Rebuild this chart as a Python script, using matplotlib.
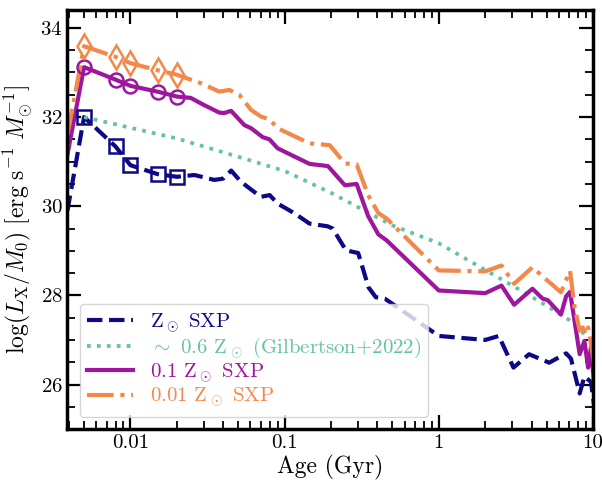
import numpy as np
import matplotlib
matplotlib.use("Agg")
import matplotlib.pyplot as plt
from matplotlib.ticker import MultipleLocator, LogLocator, FixedLocator, FixedFormatter

plt.rcParams['font.family'] = 'serif'
plt.rcParams['font.serif'] = ['cmr10', 'DejaVu Serif']
plt.rcParams['mathtext.fontset'] = 'cm'
plt.rcParams['axes.formatter.use_mathtext'] = True
plt.rcParams['axes.unicode_minus'] = False

# ---------------- data ----------------
marker_ages = [0.005, 0.008, 0.01, 0.015, 0.02]

solar_ages = [0.0039, 0.005, 0.008, 0.01, 0.015, 0.02, 0.026, 0.035, 0.040, 0.045,
              0.052, 0.070, 0.080, 0.090, 0.116, 0.145, 0.19, 0.205, 0.25, 0.30,
              0.35, 0.39, 0.45, 1.0, 2.0, 2.45, 3.05, 3.85, 5.2, 6.7, 7.2, 8.2,
              8.8, 9.7, 10.2]
solar_vals = [29.9, 32.0, 31.34, 30.92, 30.72, 30.66, 30.70, 30.59, 30.62, 30.80,
              30.55, 30.21, 30.25, 30.06, 29.84, 29.61, 29.55, 29.50, 29.01, 28.95,
              28.18, 27.96, 27.92, 27.09, 27.0, 27.09, 26.38, 26.68, 26.49, 26.70,
              26.58, 25.80, 26.18, 26.06, 25.50]

gilb_ages = [0.005, 0.01, 0.02, 0.05, 0.1, 0.2, 0.5, 1.0, 2.0, 3.0, 5.0, 7.0, 10.0]
gilb_vals = [32.0, 31.76, 31.52, 31.11, 30.79, 30.30, 29.57, 29.17, 28.57, 28.22,
             27.77, 27.45, 26.95]

z01_ages = [0.0039, 0.005, 0.008, 0.01, 0.015, 0.02, 0.0246, 0.030, 0.0377, 0.0406,
            0.0449, 0.0548, 0.0606, 0.072, 0.0797, 0.090, 0.145, 0.191, 0.246, 0.293,
            0.348, 0.405, 0.46, 1.0, 2.0, 2.55, 3.08, 4.05, 4.7, 5.1, 6.2, 6.7, 7.1,
            8.2, 8.8, 9.3, 9.7, 10.2]
z01_vals = [31.16, 33.12, 32.84, 32.70, 32.57, 32.46, 32.43, 32.27, 32.10, 32.09,
            32.14, 31.82, 31.75, 31.55, 31.50, 31.30, 30.95, 30.90, 30.47, 30.50,
            29.78, 29.37, 29.23, 28.11, 28.05, 28.22, 27.79, 28.15, 27.93, 27.89,
            27.57, 27.98, 28.08, 26.68, 26.98, 26.38, 26.83, 25.95]

z001_ages = [0.0039, 0.005, 0.008, 0.01, 0.015, 0.02, 0.0286, 0.0377, 0.0437, 0.0508,
             0.0606, 0.0703, 0.0797, 0.090, 0.145, 0.196, 0.246, 0.293, 0.348, 0.405,
             0.46, 1.0, 2.0, 2.55, 3.08, 4.05, 4.7, 6.2, 7.1, 7.6, 8.2, 8.6, 9.0,
             9.3, 9.7, 10.2]
z001_vals = [31.6, 33.59, 33.35, 33.21, 33.05, 32.95, 32.76, 32.57, 32.61, 32.50,
             32.16, 32.01, 31.95, 31.75, 31.41, 31.37, 30.96, 30.94, 30.25, 29.85,
             29.72, 28.56, 28.54, 28.67, 28.26, 28.63, 28.43, 28.07, 28.55, 27.73,
             27.21, 27.28, 27.13, 27.28, 26.91, 26.46]

labels = [r'$\mathrm{Z}_\odot$ SXP', r'$\sim$ 0.6 $\mathrm{Z}_\odot$ (Gilbertson+2022)',
          r'0.1 $\mathrm{Z}_\odot$ SXP', r'0.01 $\mathrm{Z}_\odot$ SXP']
colors = ['#0d0887', '#66c2a5', '#9c179e', '#f48849']

xticks = [0.01, 0.1, 1, 10]
xticklabels = ['0.01', '0.1', '1', '10']
yticks = [26, 28, 30, 32, 34]

# ---------------- plot ----------------
fig = plt.figure(figsize=(6.02, 4.8), dpi=100)
ax = fig.add_axes([0.112, 0.106, 0.873, 0.873])

lw = 3
ax.plot(solar_ages, solar_vals, ls='--', lw=lw, color=colors[0], label=labels[0])
ax.plot(gilb_ages, gilb_vals, ls=':', lw=2.7, color=colors[1], label=labels[1])
ax.plot(z01_ages, z01_vals, ls='-', lw=lw, color=colors[2], label=labels[2])
ax.plot(z001_ages, z001_vals, ls='-.', lw=lw, color=colors[3], label=labels[3])

def pick(ages, vals):
    a = np.array(ages); v = np.array(vals)
    m = np.isin(np.round(a, 5), np.round(marker_ages, 5))
    return a[m], v[m]

for (ag, vl, mk, c, ms) in [(solar_ages, solar_vals, 's', colors[0], 10),
                            (z01_ages, z01_vals, 'o', colors[2], 10),
                            (z001_ages, z001_vals, 'd', colors[3], 12)]:
    xa, ya = pick(ag, vl)
    ax.plot(xa, ya, ls='none', marker=mk, ms=ms, mfc='none', mec=c, mew=1.8)

ax.set_xscale('log')
ax.set_xlim(0.0039, 10)
ax.set_ylim(25, 34.4)

ax.xaxis.set_major_locator(FixedLocator(xticks))
ax.xaxis.set_major_formatter(FixedFormatter(xticklabels))
ax.xaxis.set_minor_locator(LogLocator(base=10, subs=np.arange(2, 10), numticks=20))
ax.xaxis.set_minor_formatter(FixedFormatter([]))
ax.yaxis.set_major_locator(FixedLocator(yticks))
ax.yaxis.set_minor_locator(MultipleLocator(0.5))

ax.tick_params(which='both', direction='in', top=True, right=True, labelsize=15)
ax.tick_params(which='major', length=10, width=1.6)
ax.tick_params(which='minor', length=5.5, width=1.3)
for s in ax.spines.values():
    s.set_linewidth(2.5)

ax.set_xlabel('Age (Gyr)', fontsize=17, labelpad=2)
ax.set_ylabel(r'$\log(L_{\rm X}/M_0)\ [{\rm erg\ s^{-1}}\ M_{\odot}^{-1}]$', fontsize=17, labelpad=4)

leg = ax.legend(loc='lower left', fontsize=15, handlelength=2.2, labelcolor='linecolor',
                framealpha=0.8, borderaxespad=0.6, labelspacing=0.05,
                borderpad=0.35)
leg.set_zorder(5)

fig.savefig('out.png', dpi=100)
